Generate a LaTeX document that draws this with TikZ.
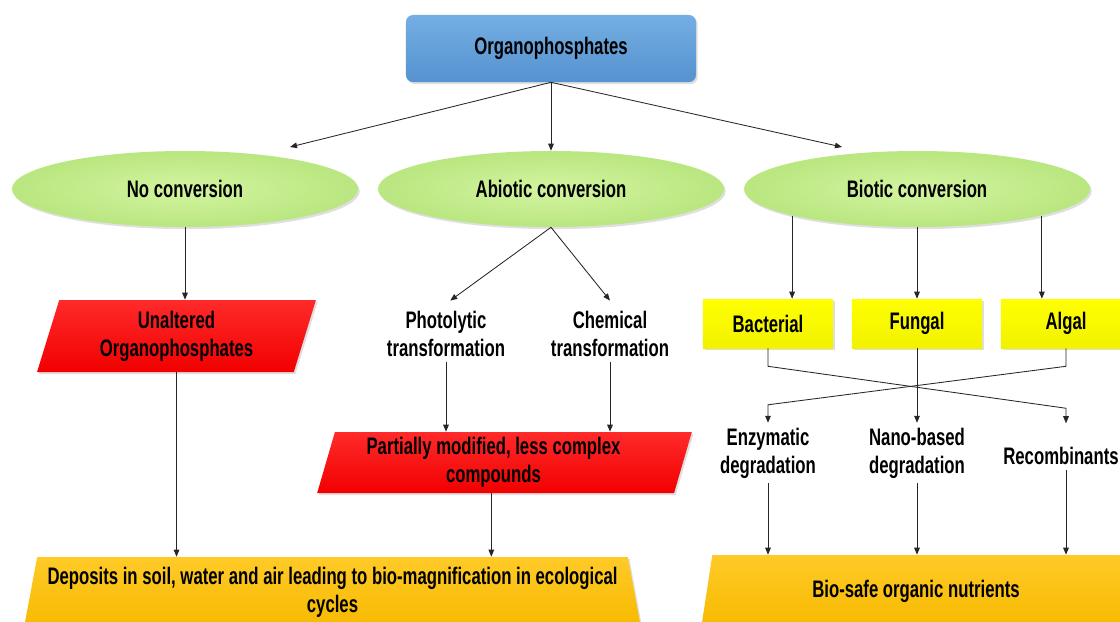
\documentclass[tikz,border=0pt]{standalone}
\usepackage{fontspec}
\setmainfont{Liberation Sans}[FakeStretch=0.7]
\usetikzlibrary{shapes.geometric,arrows.meta,shadows,calc}
\definecolor{bluetop}{HTML}{74AEE3}
\definecolor{bluebot}{HTML}{5592CF}
\definecolor{gin}{HTML}{D3F4A0}
\definecolor{gout}{HTML}{86CC40}
\definecolor{redtop}{HTML}{FF2A2A}
\definecolor{redbot}{HTML}{F20000}
\definecolor{goldtop}{HTML}{FFCA28}
\definecolor{goldbot}{HTML}{F7BA00}
\definecolor{yel}{HTML}{FFFF00}
\definecolor{yelbot}{HTML}{F2F200}
\pgfdeclareradialshading{ellsh}{\pgfpoint{0bp}{0bp}}{color(0bp)=(gin); color(26bp)=(gin!65!gout); color(50bp)=(gout)}
\begin{document}
\begin{tikzpicture}[x=0.025cm,y=-0.025cm,
  font=\fontsize{17}{20}\selectfont\bfseries,
  arr/.style={-{Triangle[length=5pt,width=4pt]}, line width=0.6pt, draw=black!85},
  shad/.style={drop shadow={opacity=0.25,shadow xshift=1.2pt,shadow yshift=-1.5pt}},
  topbox/.style={rectangle, rounded corners=5pt, minimum width=7.25cm, minimum height=1.675cm,
    top color=bluetop, bottom color=bluebot, shad},
  ell/.style={ellipse, minimum width=8.65cm, minimum height=1.9cm, inner sep=0pt, shading=ellsh, shad},
  para/.style={trapezium, trapezium left angle=74, trapezium right angle=106, trapezium stretches=true,
    inner sep=0pt, align=center, top color=redtop, bottom color=redbot, shad},
  gold/.style={trapezium, trapezium left angle=76, trapezium right angle=76, trapezium stretches=true,
    inner sep=0pt, align=center, top color=goldtop, bottom color=goldbot, shad},
  ybox/.style={rectangle, minimum width=3.25cm, minimum height=1.225cm, top color=yel, bottom color=yelbot, shad},
  txt/.style={align=center}]
\useasboundingbox (0,0) rectangle (1120,621);
\clip (0,0) rectangle (1120,621);
\fill[white] (0,0) rectangle (1120,621);

\node[topbox] (op) at (551,48.5) {Organophosphates};

\node[ell] (noconv) at (185,189) {No conversion};
\node[ell] (abio) at (551,189) {Abiotic conversion};
\node[ell] (bio) at (917,189) {Biotic conversion};

\coordinate (t1) at (290,147);
\coordinate (t3) at (842,147);
\draw[arr] (op.south) -- (t1);
\draw[arr] (op.south) -- (abio.north);
\draw[arr] (op.south) -- (t3);

\node[para, minimum width=6.975cm, minimum height=1.8cm] (ua) at (176.5,336) {Unaltered\\Organophosphates};
\node[txt] (photo) at (446,334) {Photolytic\\transformation};
\node[txt] (chem) at (610,334) {Chemical\\transformation};
\node[para, minimum width=9.375cm, minimum height=1.525cm] (pm) at (504.5,462.5) {Partially modified, less complex\kern0.55cm\\compounds\kern0.55cm};

\node[ybox] (bac) at (768,323.5) {Bacterial};
\node[ybox] (fung) at (917,323.5) {Fungal};
\node[ybox] (alg) at (1066,323.5) {Algal};

\node[txt] (enz) at (768,453) {Enzymatic\\degradation};
\node[txt] (nano) at (917,453) {Nano-based\\degradation};
\node[txt] (rec) at (1061,456) {Recombinants};

\node[gold, minimum width=15.5cm, minimum height=1.75cm] (dep) at (332.5,592)
  {Deposits in soil, water and air leading to bio-magnification in ecological\\cycles};
\node[gold, minimum width=10.75cm, minimum height=1.8cm] (bs) at (916,591) {Bio-safe organic nutrients};

% left column
\draw[arr] (noconv.south) -- (noconv.south |- ua.north);
\draw[arr] (ua.south) -- (ua.south |- dep.north);

% abiotic
\draw[arr] (abio.south) -- ([xshift=3pt,yshift=4pt]photo.north);
\draw[arr] (abio.south) -- ([yshift=4pt]chem.north);
\draw[arr] (photo.south) -- (photo.south |- pm.north);
\draw[arr] (chem.south) -- (chem.south |- pm.north);
\draw[arr] ([xshift=-0.33cm]pm.south) -- ([xshift=-0.33cm]pm.south |- dep.north);

% biotic
\draw[arr] (bio.192) -- (bio.192 |- bac.north);
\draw[arr] (bio.south) -- (fung.north);
\draw[arr] (bio.-12) -- (bio.-12 |- alg.north);

\draw[arr] (bac.south) -- ++(0,18) -- ($(alg.south |- rec.north)+(0,-34)$) -- ($(alg.south |- rec.north)+(0,-19)$);
\draw[arr] (alg.south) -- ++(0,18) -- ($(enz.north)+(0,-18)$) -- (enz.north);
\draw[arr] (fung.south) -- (nano.north);

\draw[arr] (enz.south) -- (enz.south |- bs.north);
\draw[arr] (nano.south) -- (nano.south |- bs.north);
\draw[arr] (alg.south |- rec.south) -- (alg.south |- bs.north);
\end{tikzpicture}
\end{document}
